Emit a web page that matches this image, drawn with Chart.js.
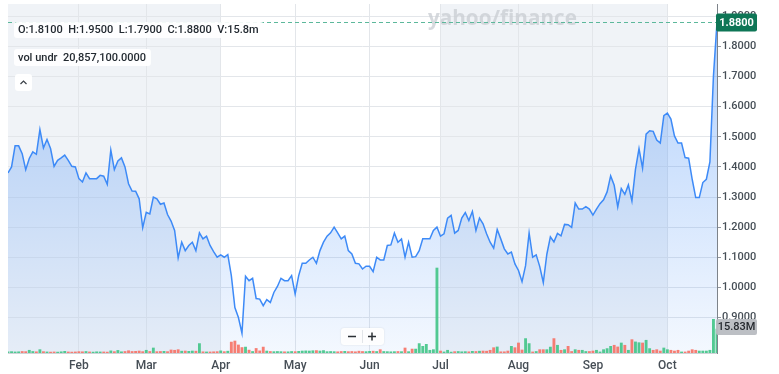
<!DOCTYPE html>
<html>
<head>
<meta charset="utf-8">
<script src="https://cdn.jsdelivr.net/npm/chart.js@4.4.1/dist/chart.umd.min.js"></script>
<style>
  html, body { margin: 0; padding: 0; background: #fff; }
  canvas { display: block; }
</style>
</head>
<body>
<canvas id="chart" width="779" height="374"></canvas>
<script>
// daily closes, one per trading day (index 1 = first day shown)
const closes = [
  1.38, 1.40, 1.47, 1.47, 1.444, 1.391, 1.428, 1.45, 1.442, 1.524,
  1.463, 1.491, 1.461, 1.402, 1.422, 1.43, 1.439, 1.422, 1.402, 1.40,
  1.361, 1.35, 1.38, 1.361, 1.361, 1.361, 1.372, 1.369, 1.342, 1.456,
  1.391, 1.42, 1.43, 1.40, 1.344, 1.32, 1.319, 1.294, 1.198, 1.249,
  1.244, 1.30, 1.294, 1.276, 1.28, 1.242, 1.22, 1.189, 1.098, 1.15,
  1.122, 1.139, 1.15, 1.122, 1.181, 1.161, 1.17, 1.139, 1.119, 1.10,
  1.108, 1.10, 1.109, 1.039, 0.933, 0.90, 0.848, 1.037, 1.022, 1.03,
  0.963, 0.961, 0.939, 0.959, 0.95, 0.983, 1.003, 1.03, 1.022, 1.022,
  1.039, 0.978, 1.039, 1.08, 1.08, 1.091, 1.10, 1.08, 1.122, 1.15,
  1.17, 1.181, 1.20, 1.181, 1.161, 1.17, 1.122, 1.111, 1.08, 1.078,
  1.061, 1.07, 1.07, 1.052, 1.10, 1.091, 1.091, 1.139, 1.141, 1.18,
  1.15, 1.161, 1.10, 1.15, 1.10, 1.102, 1.122, 1.161, 1.161, 1.161,
  1.189, 1.20, 1.17, 1.178, 1.23, 1.239, 1.18, 1.189, 1.23, 1.248,
  1.222, 1.252, 1.189, 1.23, 1.211, 1.178, 1.15, 1.13, 1.192, 1.161,
  1.128, 1.111, 1.117, 1.078, 1.056, 1.019, 1.072, 1.181, 1.10, 1.108,
  1.069, 1.016, 1.11, 1.168, 1.151, 1.179, 1.171, 1.209, 1.208, 1.199,
  1.28, 1.26, 1.26, 1.268, 1.26, 1.24, 1.26, 1.278, 1.291, 1.317,
  1.37, 1.339, 1.267, 1.328, 1.309, 1.34, 1.287, 1.392, 1.461, 1.396,
  1.509, 1.52, 1.518, 1.489, 1.479, 1.57, 1.579, 1.559, 1.503, 1.479,
  1.479, 1.431, 1.429, 1.359, 1.298, 1.298, 1.348, 1.359, 1.417, 1.703,
  1.88
];

// daily volume, millions
const volumes = [
  0.8, 0.9, 0.7, 0.8, 1.0, 0.9, 1.8, 1.0, 0.8, 2.2,
  0.9, 0.7, 0.6, 0.7, 0.6, 0.8, 1.1, 0.7, 0.6, 0.7,
  0.9, 0.8, 1.0, 0.7, 0.6, 0.8, 0.7, 0.7, 0.6, 1.4,
  0.9, 1.7, 0.8, 1.0, 1.5, 1.0, 1.1, 1.3, 0.9, 1.8,
  1.0, 3.3, 0.9, 1.0, 1.1, 0.9, 2.0, 1.8, 2.2, 1.2,
  1.3, 1.1, 1.3, 1.2, 6.2, 0.8, 0.7, 0.7, 0.8, 0.9,
  1.4, 0.9, 1.2, 7.2, 7.9, 5.3, 3.6, 3.9, 1.9, 1.0,
  3.0, 1.4, 3.9, 1.3, 1.0, 0.9, 1.0, 0.9, 0.8, 0.8,
  1.0, 0.9, 1.1, 1.3, 1.4, 1.3, 1.5, 1.6, 1.3, 1.6,
  0.9, 1.0, 0.9, 0.8, 1.0, 1.1, 0.9, 1.0, 0.8, 1.2,
  1.0, 0.9, 1.1, 1.2, 1.0, 2.2, 1.0, 0.9, 0.8, 0.9,
  1.0, 0.9, 3.3, 0.9, 2.6, 2.6, 6.2, 4.4, 5.7, 1.8,
  2.2, 56, 1.3, 0.7, 1.8, 0.6, 0.9, 1.0, 0.8, 0.9,
  0.8, 1.1, 1.0, 1.2, 1.3, 1.2, 1.8, 3.5, 4.0, 0.8,
  0.8, 1.3, 4.4, 3.5, 6.6, 2.0, 9.5, 6.2, 0.7, 1.0,
  2.2, 2.2, 2.2, 3.9, 9.5, 5.1, 1.8, 2.2, 4.4, 1.0,
  2.2, 1.8, 1.8, 1.0, 1.0, 1.3, 1.8, 0.7, 2.2, 2.9,
  4.4, 5.1, 4.0, 6.6, 5.1, 1.8, 8.8, 7.3, 6.8, 6.6,
  8.4, 2.9, 1.8, 2.2, 1.3, 3.3, 2.2, 1.8, 1.3, 1.8,
  0.7, 0.7, 1.3, 2.2, 1.8, 1.3, 1.3, 1.3, 1.8, 22.2,
  15.83
];

const monthNames = ['Feb', 'Mar', 'Apr', 'May', 'Jun', 'Jul', 'Aug', 'Sep', 'Oct'];
const monthStarts = [21, 40, 61, 82, 103, 123, 145, 166, 187];
const quarterBands = [[1, 61], [123, 187]];
const priceTicks = [0.9, 1.0, 1.1, 1.2, 1.3, 1.4, 1.5, 1.6, 1.7, 1.8, 1.9];

const ohlcText = 'O:1.8100  H:1.9500  L:1.7900  C:1.8800  V:15.8m';
const volUndrText = 'vol undr  20,857,100.0000';
const lastClose = 1.88;
const lastVolume = 15.83;

const priceData = closes.map((v, i) => ({ x: i + 1, y: v }));
const volData = volumes.map((v, i) => ({ x: i + 1, y: v }));
const volColors = closes.map((v, i) => (i === 0 || v >= closes[i - 1]) ? 'rgba(64,196,134,0.9)' : 'rgba(246,112,100,0.9)');

function roundRect(ctx, x, y, w, h, r) {
  ctx.beginPath();
  ctx.moveTo(x + r, y);
  ctx.lineTo(x + w - r, y);
  ctx.quadraticCurveTo(x + w, y, x + w, y + r);
  ctx.lineTo(x + w, y + h - r);
  ctx.quadraticCurveTo(x + w, y + h, x + w - r, y + h);
  ctx.lineTo(x + r, y + h);
  ctx.quadraticCurveTo(x, y + h, x, y + h - r);
  ctx.lineTo(x, y + r);
  ctx.quadraticCurveTo(x, y, x + r, y);
  ctx.closePath();
}

const decor = {
  id: 'decor',
  beforeDraw(chart) {
    const { ctx, chartArea: a, scales: { x } } = chart;
    ctx.save();
    ctx.fillStyle = '#fff';
    ctx.fillRect(0, 0, chart.width, chart.height);
    ctx.fillStyle = 'rgba(226,232,240,0.5)';
    quarterBands.forEach(([s, e]) => {
      const x0 = Math.max(x.getPixelForValue(s), a.left);
      const x1 = Math.min(x.getPixelForValue(e), a.right);
      ctx.fillRect(x0, a.top, x1 - x0, a.bottom - a.top);
    });
    ctx.restore();
  },
  beforeDatasetsDraw(chart) {
    // watermark
    const { ctx } = chart;
    ctx.save();
    ctx.font = 'bold 21px "Open Sans"';
    const w = ctx.measureText('yahoo/finance').width;
    const size = 21 * 149 / w;
    ctx.font = 'bold ' + size.toFixed(1) + 'px "Open Sans"';
    ctx.fillStyle = 'rgba(200,204,209,0.75)';
    ctx.textBaseline = 'alphabetic';
    ctx.fillText('yahoo/finance', 428, 25);
    ctx.restore();
  },
  afterDraw(chart) {
    const { ctx, chartArea: a, scales: { y, yVol } } = chart;
    ctx.save();

    // last price dashed line
    const py = Math.round(y.getPixelForValue(lastClose)) + 0.5;
    ctx.strokeStyle = '#5cb89b';
    ctx.lineWidth = 1;
    ctx.setLineDash([4, 3]);
    ctx.beginPath();
    ctx.moveTo(a.left, py);
    ctx.lineTo(a.right, py);
    ctx.stroke();
    ctx.setLineDash([]);

    ctx.textBaseline = 'middle';

    // price label
    ctx.fillStyle = '#0e7656';
    roundRect(ctx, a.right - 1, py - 9, 41, 18, 2);
    ctx.fill();
    ctx.fillStyle = '#fff';
    ctx.font = 'bold 11px Roboto';
    ctx.textAlign = 'center';
    ctx.fillText(lastClose.toFixed(4), a.right + 19.5, py + 0.5);

    // volume label
    const vy = yVol.getPixelForValue(lastVolume) - 2;
    ctx.fillStyle = 'rgba(184,188,193,0.95)';
    roundRect(ctx, a.right - 1, vy - 8, 41, 16, 2);
    ctx.fill();
    ctx.fillStyle = '#262a2f';
    ctx.font = '500 11px Roboto';
    ctx.fillText(lastVolume.toFixed(2) + 'M', a.right + 19.5, vy + 0.5);

    // legend boxes
    ctx.textAlign = 'left';
    ctx.font = '500 11px Roboto';
    ctx.fillStyle = 'rgba(255,255,255,0.92)';
    roundRect(ctx, 14, 22, ctx.measureText(ohlcText).width + 9, 16, 3);
    ctx.fill();
    ctx.fillStyle = '#232a31';
    ctx.fillText(ohlcText, 18, 30);

    ctx.fillStyle = 'rgba(255,255,255,0.92)';
    roundRect(ctx, 14, 49, ctx.measureText(volUndrText).width + 9, 17, 3);
    ctx.fill();
    ctx.fillStyle = '#232a31';
    ctx.fillText(volUndrText, 18, 58);

    // collapse button
    ctx.fillStyle = 'rgba(255,255,255,0.95)';
    roundRect(ctx, 15, 74, 17, 17, 3);
    ctx.fill();
    ctx.strokeStyle = '#3a4047';
    ctx.lineWidth = 1.2;
    ctx.beginPath();
    ctx.moveTo(20.5, 84);
    ctx.lineTo(23.5, 81);
    ctx.lineTo(26.5, 84);
    ctx.stroke();

    // zoom buttons
    ctx.fillStyle = 'rgba(255,255,255,0.95)';
    ctx.shadowColor = 'rgba(0,0,0,0.12)';
    ctx.shadowBlur = 2;
    roundRect(ctx, 341, 328, 43, 17, 3);
    ctx.fill();
    ctx.shadowBlur = 0;
    ctx.shadowColor = 'transparent';
    ctx.strokeStyle = '#e2e5e9';
    ctx.lineWidth = 1;
    ctx.beginPath();
    ctx.moveTo(362.5, 330);
    ctx.lineTo(362.5, 343);
    ctx.stroke();
    ctx.strokeStyle = '#2b3036';
    ctx.lineWidth = 1.5;
    ctx.beginPath();
    ctx.moveTo(348, 336.5);
    ctx.lineTo(356, 336.5);
    ctx.moveTo(368, 336.5);
    ctx.lineTo(376, 336.5);
    ctx.moveTo(372, 332.5);
    ctx.lineTo(372, 340.5);
    ctx.stroke();

    ctx.restore();
  }
};

Chart.defaults.font.family = 'Roboto, "Liberation Sans", sans-serif';

new Chart(document.getElementById('chart'), {
  type: 'bar',
  data: {
    datasets: [
      {
        type: 'bar',
        data: volData,
        yAxisID: 'yVol',
        backgroundColor: volColors,
        barThickness: 2.2,
        order: 0
      },
      {
        type: 'line',
        data: priceData,
        yAxisID: 'y',
        borderColor: '#3d8af7',
        borderWidth: 1.5,
        pointRadius: 0,
        tension: 0,
        fill: 'start',
        backgroundColor: (c) => {
          const a = c.chart.chartArea;
          if (!a) return 'rgba(61,138,247,0.25)';
          const g = c.chart.ctx.createLinearGradient(0, a.top, 0, a.bottom);
          g.addColorStop(0, 'rgba(61,138,247,0.42)');
          g.addColorStop(1, 'rgba(61,138,247,0.06)');
          return g;
        },
        order: 1
      }
    ]
  },
  options: {
    responsive: false,
    devicePixelRatio: 1,
    animation: false,
    layout: { padding: { left: 8, top: 4, right: 0, bottom: 0 } },
    plugins: { legend: { display: false }, tooltip: { enabled: false } },
    scales: {
      x: {
        type: 'linear',
        min: 1,
        max: 201,
        offset: false,
        grid: { color: '#e3e6ea', drawTicks: false, offset: false },
        border: { color: '#cfd3d8' },
        ticks: {
          padding: 6,
          color: '#464e56',
          font: { size: 12, weight: '500' },
          maxRotation: 0,
          callback: (v) => monthNames[monthStarts.indexOf(v)] || ''
        },
        afterBuildTicks: (s) => { s.ticks = monthStarts.map(v => ({ value: v })); },
        afterFit: (s) => { s.height = 21; s.paddingLeft = 0; s.paddingRight = 0; }
      },
      y: {
        position: 'right',
        min: 0.782,
        max: 1.941,
        grid: { color: '#e3e6ea', tickLength: 4, tickColor: '#9096a0' },
        border: { color: '#7d838a' },
        ticks: {
          padding: 1,
          color: '#464e56',
          font: { size: 11, weight: '500' },
          callback: (v) => Number(v).toFixed(4)
        },
        afterBuildTicks: (s) => { s.ticks = priceTicks.map(v => ({ value: v })); },
        afterFit: (s) => { s.width = 62; s.paddingTop = 0; s.paddingBottom = 0; }
      },
      yVol: {
        display: false,
        min: 0,
        max: 230
      }
    }
  },
  plugins: [decor]
});
</script>
</body>
</html>
